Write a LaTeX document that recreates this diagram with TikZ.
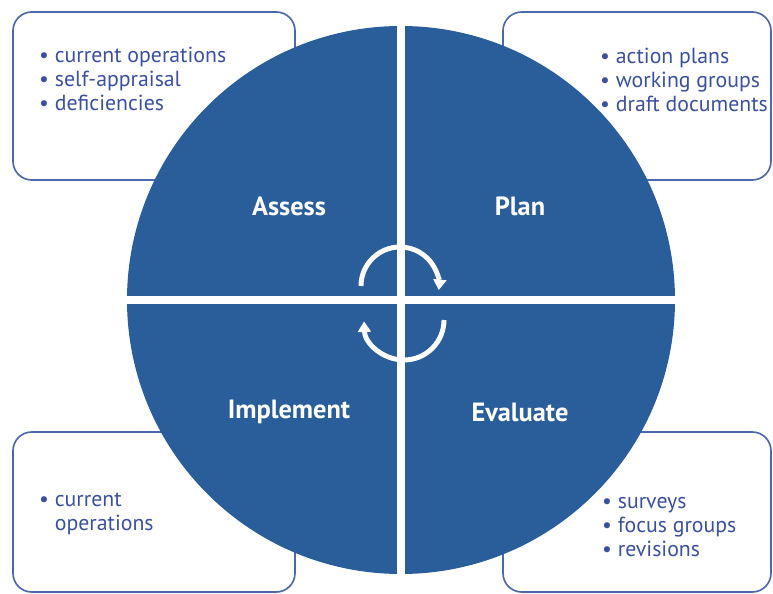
\documentclass[tikz,border=0pt]{standalone}
\usepackage{fontspec}
\setmainfont{PT Sans}
\usetikzlibrary{arrows.meta}
\definecolor{wheelblue}{RGB}{42,94,154}
\definecolor{boxline}{RGB}{74,104,172}
\definecolor{listblue}{RGB}{60,80,160}
\tikzset{
  infobox/.style={boxline, line width=1.4pt, rounded corners=16pt},
  listtext/.style={text=listblue, align=left, inner sep=0pt, anchor=north west,
    font=\fontsize{18.6}{20.4}\selectfont},
  quadlabel/.style={text=white, font=\fontsize{22.5}{24}\selectfont\bfseries},
  turn/.style={white, line width=4.2pt, -{Triangle[length=9pt,width=11pt]}}
}

\begin{document}
\begin{tikzpicture}[x=0.03cm,y=-0.03cm]
        
        \useasboundingbox (0,0) rectangle (773,594);
        \clip (0,0) rectangle (773,594);
        \fill[white] (0,0) rectangle (773,594);
        
        % boxes behind the wheel
        \draw[infobox] (13,12) rectangle (295,180);
        \draw[infobox] (503,12) rectangle (771,180);
        \draw[infobox] (13,432) rectangle (295,592);
        \draw[infobox] (503,432) rectangle (771,592);
        
        \node[listtext] (assesslist) at (39,47) {• current operations\\• self-appraisal\\• deficiencies};
        \node[listtext] (planlist) at (600,48) {• action plans\\• working groups\\• draft documents};
        \node[listtext] (implist) at (39,493) {• current\\\phantom{• }operations};
        \node[listtext] (evallist) at (602,497) {• surveys\\• focus groups\\• revisions};
        
        % the wheel
        \coordinate (hub) at (401,300);
        \fill[wheelblue] (hub) circle (274);
        \draw[white, line width=7.6pt] (401,15) -- (401,585);
        \draw[white, line width=7.6pt] (120,300) -- (682,300);
        
        \node[quadlabel] (assess) at (289,206) {Assess};
        \node[quadlabel] (plan) at (520,206) {Plan};
        \node[quadlabel] (implement) at (289,412) {Implement};
        \node[quadlabel] (evaluate) at (520,412) {Evaluate};
        
        % turning arrows
        \draw[turn] (361,286) arc (180:366:39);
        \draw[turn] (444,320) arc (0:178:40);
        
        \end{tikzpicture}
\end{document}
